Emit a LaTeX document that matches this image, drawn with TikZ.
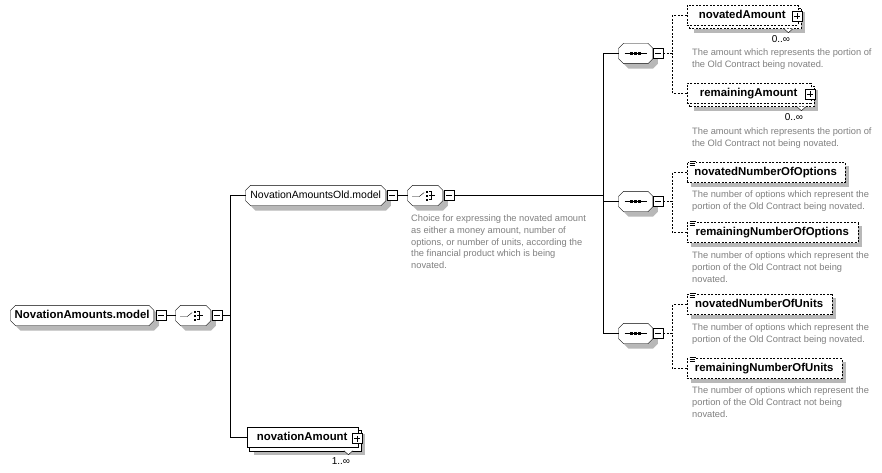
\documentclass[tikz,border=0pt]{standalone}
\usepackage{fontspec}
\setmainfont{Liberation Sans}
\usetikzlibrary{backgrounds}
\definecolor{shgray}{RGB}{184,184,184}
\definecolor{dgray}{RGB}{128,128,128}
\tikzset{
  octa/.style={rectangle, anchor=west, inner sep=0pt, minimum height=20pt, text height=8pt, text depth=2.5pt},
  namefont/.style={font=\bfseries\fontsize{11.4}{13}\selectfont},
  elem/.style={rectangle, draw, fill=white, inner sep=0pt, minimum height=20pt, anchor=west,
    namefont, text height=8.2pt, text depth=2.4pt},
  opt/.style={dash pattern=on 2pt off 1.5pt},
  sbox/.style={rectangle, draw, fill=white, minimum size=10pt, inner sep=0pt},
  minusbox/.style={sbox, anchor=west, path picture={\draw ([xshift=2pt]path picture bounding box.west) -- ([xshift=-2pt]path picture bounding box.east);}},
  plusbox/.style={sbox, anchor=center, path picture={\draw ([xshift=2pt]path picture bounding box.west) -- ([xshift=-2pt]path picture bounding box.east); \draw ([yshift=-2pt]path picture bounding box.north) -- ([yshift=2pt]path picture bounding box.south);}},
  desc/.style={anchor=north west, align=left, inner sep=0pt, text=dgray, font=\fontsize{9.3}{11.6}\selectfont},
  mult/.style={inner sep=0pt, font=\fontsize{10}{12}\selectfont},
  shadowfill/.style={fill=shgray, transform canvas={shift={(#1pt,-#1pt)}}},
}
% octagon outline + shadow behind a named node
\newcommand\mkocta[1]{%
  \begin{pgfonlayer}{background}
  \fill[shadowfill=5] ([xshift=5pt]#1.north west) -- ([xshift=-5pt]#1.north east) -- ([yshift=-5pt]#1.north east) -- ([yshift=5pt]#1.south east) -- ([xshift=-5pt]#1.south east) -- ([xshift=5pt]#1.south west) -- ([yshift=5pt]#1.south west) -- ([yshift=-5pt]#1.north west) -- cycle;
  \filldraw[fill=white] ([xshift=5pt]#1.north west) -- ([xshift=-5pt]#1.north east) -- ([yshift=-5pt]#1.north east) -- ([yshift=5pt]#1.south east) -- ([xshift=-5pt]#1.south east) -- ([xshift=5pt]#1.south west) -- ([yshift=5pt]#1.south west) -- ([yshift=-5pt]#1.north west) -- cycle;
  \end{pgfonlayer}}
% single element shadow
\newcommand\mksingle[1]{%
  \begin{pgfonlayer}{background}
  \fill[shadowfill=4] (#1.south west) rectangle (#1.north east);
  \end{pgfonlayer}}
% repeated element: back copy + shadow + notch
\newcommand\mkmulti[2]{%
  \begin{pgfonlayer}{background}
  \fill[shadowfill=7] (#1.south west) rectangle (#1.north east);
  \draw[fill=white, #2, transform canvas={shift={(3pt,-3pt)}}] (#1.south west) rectangle (#1.north east);
  \end{pgfonlayer}
  \draw[fill=white] ([shift={(-14,3)}]#1.south east) -- ++(4.5,4) -- ++(4.5,-4);}
\newcommand\mkchoice[1]{%
  \draw ([shift={(-13,1)}]#1.center) -- ([shift={(-6,1)}]#1.center) -- ([shift={(-1,-3)}]#1.center);
  \fill ([shift={(1,-5)}]#1.center) rectangle ([shift={(3,-3)}]#1.center);
  \fill ([shift={(1,-1)}]#1.center) rectangle ([shift={(3,1)}]#1.center);
  \fill ([shift={(1,3)}]#1.center) rectangle ([shift={(3,5)}]#1.center);
  \draw ([shift={(4,-4)}]#1.center) -- ([shift={(6,-4)}]#1.center) -- ([shift={(6,4)}]#1.center) -- ([shift={(4,4)}]#1.center);
  \draw ([shift={(4,0)}]#1.center) -- ([shift={(10,0)}]#1.center);}
\newcommand\mkseq[1]{%
  \draw ([shift={(-11,0)}]#1.center) -- ([shift={(11,0)}]#1.center);
  \fill ([shift={(-5.5,-1.5)}]#1.center) rectangle ([shift={(-2.5,1.5)}]#1.center);
  \fill ([shift={(-1.5,-1.5)}]#1.center) rectangle ([shift={(1.5,1.5)}]#1.center);
  \fill ([shift={(2.5,-1.5)}]#1.center) rectangle ([shift={(5.5,1.5)}]#1.center);}
\newcommand\mksimple[1]{%
  \fill[white] ([shift={(2,-2)}]#1.north west) rectangle ([shift={(9,4)}]#1.north west);
  \draw[line width=0.8pt] ([shift={(3,-1)}]#1.north west) -- ++(6,0);
  \draw[line width=0.8pt] ([shift={(3,1)}]#1.north west) -- ++(5,0);
  \draw[line width=0.8pt] ([shift={(3,3)}]#1.north west) -- ++(5,0);}
\begin{document}
\begin{tikzpicture}[x=1pt,y=-1pt,line width=1pt]
\useasboundingbox (0,0) rectangle (882,473);
\begin{pgfonlayer}{background}
\fill[white] (0,0) rectangle (882,473);
\end{pgfonlayer}
% root
\node[octa, namefont, minimum width=143pt] (root) at (10.5,315.5) {NovationAmounts.model};
\mkocta{root}
\node[minusbox] (rootm) at ([xshift=2pt]root.east) {};
\node[octa, minimum width=35pt] (ch1) at (175.5,315.5) {};
\mkocta{ch1}
\mkchoice{ch1}
\node[minusbox] (ch1m) at ([xshift=1pt]ch1.east) {};
\coordinate (j1) at (230.5,315.5);
% NovationAmountsOld.model
\node[octa, font=\fontsize{10.5}{12}\selectfont, minimum width=140pt] (old) at (245.5,195.5) {NovationAmountsOld.model};
\mkocta{old}
\node[minusbox] (oldm) at ([xshift=1pt]old.east) {};
\node[octa, minimum width=35pt] (ch2) at (407.5,195.5) {};
\mkocta{ch2}
\mkchoice{ch2}
\node[minusbox] (ch2m) at ([xshift=1pt]ch2.east) {};
\node[desc] (ch2d) at (411,215) {Choice for expressing the novated amount\\as either a money amount, number of\\options, or number of units, according the\\the financial product which is being\\novated.};
\coordinate (j2) at (603.5,195.5);
% sequences
\node[octa, minimum width=34pt] (seq1) at (618.5,53.5) {};
\mkocta{seq1}
\mkseq{seq1}
\node[minusbox] (seq1m) at (seq1.east) {};
\node[octa, minimum width=34pt] (seq2) at (618.5,201.5) {};
\mkocta{seq2}
\mkseq{seq2}
\node[minusbox] (seq2m) at (seq2.east) {};
\node[octa, minimum width=34pt] (seq3) at (618.5,333.5) {};
\mkocta{seq3}
\mkseq{seq3}
\node[minusbox] (seq3m) at (seq3.east) {};
\coordinate (j3) at (672.5,53.5);
\coordinate (j4) at (672.5,201.5);
\coordinate (j5) at (672.5,333.5);
% group 1
\node[elem, opt, minimum width=111pt] (nA) at (686.5,15.5) {novatedAmount};
\mkmulti{nA}{opt}
\node[plusbox] (nAp) at ([shift={(-1,1)}]nA.east) {};
\node[mult] (nAmul) at ([shift={(-17,24)}]nA.east) {0..∞};
\node[desc] (nAd) at (692,49) {The amount which represents the portion of\\the Old Contract being novated.};
\node[elem, opt, minimum width=124pt] (rA) at (686.5,93.5) {remainingAmount};
\mkmulti{rA}{opt}
\node[plusbox] (rAp) at ([shift={(-1,1)}]rA.east) {};
\node[mult] (rAmul) at ([shift={(-17,24)}]rA.east) {0..∞};
\node[desc] (rAd) at (692,128) {The amount which represents the portion of\\the Old Contract not being novated.};
% group 2
\node[elem, opt, minimum width=158pt] (nNO) at (686.5,172.5) {novatedNumberOfOptions};
\mksingle{nNO}
\mksimple{nNO}
\node[desc] (nNOd) at (692,191) {The number of options which represent the\\portion of the Old Contract being novated.};
\node[elem, opt, minimum width=171pt] (rNO) at (686.5,232.5) {remainingNumberOfOptions};
\mksingle{rNO}
\mksimple{rNO}
\node[desc] (rNOd) at (692,252) {The number of options which represent the\\portion of the Old Contract not being\\novated.};
% group 3
\node[elem, opt, minimum width=145pt] (nNU) at (686.5,304.5) {novatedNumberOfUnits};
\mksingle{nNU}
\mksimple{nNU}
\node[desc] (nNUd) at (692,323.5) {The number of options which represent the\\portion of the Old Contract being novated.};
\node[elem, opt, minimum width=155pt] (rNU) at (686.5,368.5) {remainingNumberOfUnits};
\mksingle{rNU}
\mksimple{rNU}
\node[desc] (rNUd) at (692,387) {The number of options which represent the\\portion of the Old Contract not being\\novated.};
% novationAmount
\node[elem, minimum width=111pt] (nvA) at (246.5,437.5) {novationAmount};
\mkmulti{nvA}{solid}
\node[plusbox] (nvAp) at ([shift={(-1,1)}]nvA.east) {};
\node[mult] (nvAmul) at ([shift={(-17,24)}]nvA.east) {1..∞};
% connectors
\draw (rootm.east) -- (ch1.west);
\draw (ch1m.east) -- (j1);
\draw (old.west) -| (j1);
\draw (nvA.west) -| (j1);
\draw (oldm.east) -- (ch2.west);
\draw (ch2m.east) -- (j2);
\draw (seq1.west) -| (j2);
\draw (seq2.west) -| (j2);
\draw (seq3.west) -| (j2);
\draw[opt] (seq1m.east) -- (j3);
\draw[opt] (nA.west) -| (j3);
\draw[opt] (rA.west) -| (j3);
\draw[opt] (seq2m.east) -- (j4);
\draw[opt] (nNO.west) -| (j4);
\draw[opt] (rNO.west) -| (j4);
\draw[opt] (seq3m.east) -- (j5);
\draw[opt] (nNU.west) -| (j5);
\draw[opt] (rNU.west) -| (j5);
\end{tikzpicture}
\end{document}
